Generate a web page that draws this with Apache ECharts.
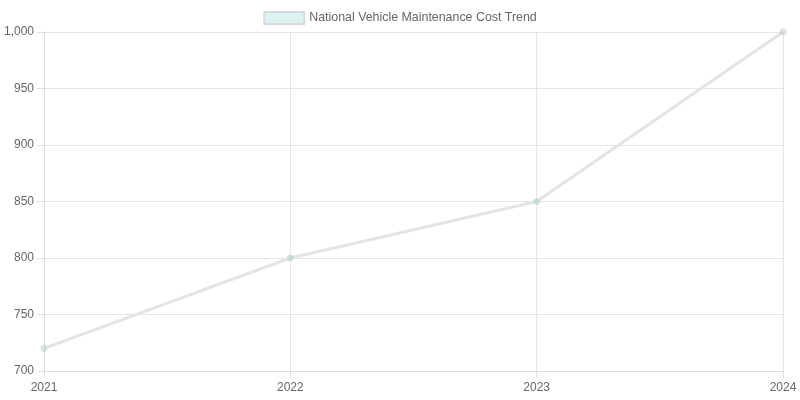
<!DOCTYPE html>
<html>
<head>
<meta charset="utf-8">
<script src="https://cdn.jsdelivr.net/npm/echarts@6/dist/echarts.min.js"></script>
<style>
  html, body { margin: 0; padding: 0; background: #fff; }
  #chart { width: 800px; height: 400px; }
</style>
</head>
<body>
<div id="chart"></div>
<script>
const years = ['2021', '2022', '2023', '2024'];
const costs = [720, 800, 850, 1000];
const seriesName = 'National Vehicle Maintenance Cost Trend';

const chart = echarts.init(document.getElementById('chart'));

const option = {
  animation: false,
  textStyle: { fontFamily: 'Liberation Sans, Arial, sans-serif' },
  legend: {
    top: 6,
    left: 'center',
    itemWidth: 40,
    itemHeight: 12,
    itemGap: 10,
    textStyle: { color: '#666', fontSize: 12.4 },
    data: [{
      name: seriesName,
      icon: 'rect',
      itemStyle: { color: 'rgba(75,192,192,0.2)', borderColor: '#d9d9d9', borderWidth: 2 }
    }]
  },
  grid: { left: 44, right: 17, top: 32, bottom: 29 },
  xAxis: {
    type: 'category',
    data: years,
    boundaryGap: false,
    axisLine: { show: true, lineStyle: { color: '#ddd' } },
    axisTick: { show: true, length: 7, lineStyle: { color: '#e0e0e0' } },
    axisLabel: { color: '#666', fontSize: 12, margin: 11 },
    splitLine: { show: true, lineStyle: { color: '#e5e5e5' } }
  },
  yAxis: {
    type: 'value',
    min: 700,
    max: 1000,
    interval: 50,
    axisLine: { show: true, lineStyle: { color: '#ddd' } },
    axisTick: { show: true, length: 7, lineStyle: { color: '#e0e0e0' } },
    axisLabel: {
      color: '#666', fontSize: 12, margin: 10,
      formatter: v => v.toLocaleString('en-US')
    },
    splitLine: { show: true, lineStyle: { color: '#e5e5e5' } }
  },
  series: [{
    name: seriesName,
    type: 'line',
    data: costs,
    symbol: 'circle',
    symbolSize: 6,
    lineStyle: { color: '#e4e4e4', width: 3 },
    itemStyle: { color: 'rgba(75,192,192,0.25)', borderColor: '#d6d6d6', borderWidth: 1 }
  }]
};

chart.setOption(option);
</script>
</body>
</html>
